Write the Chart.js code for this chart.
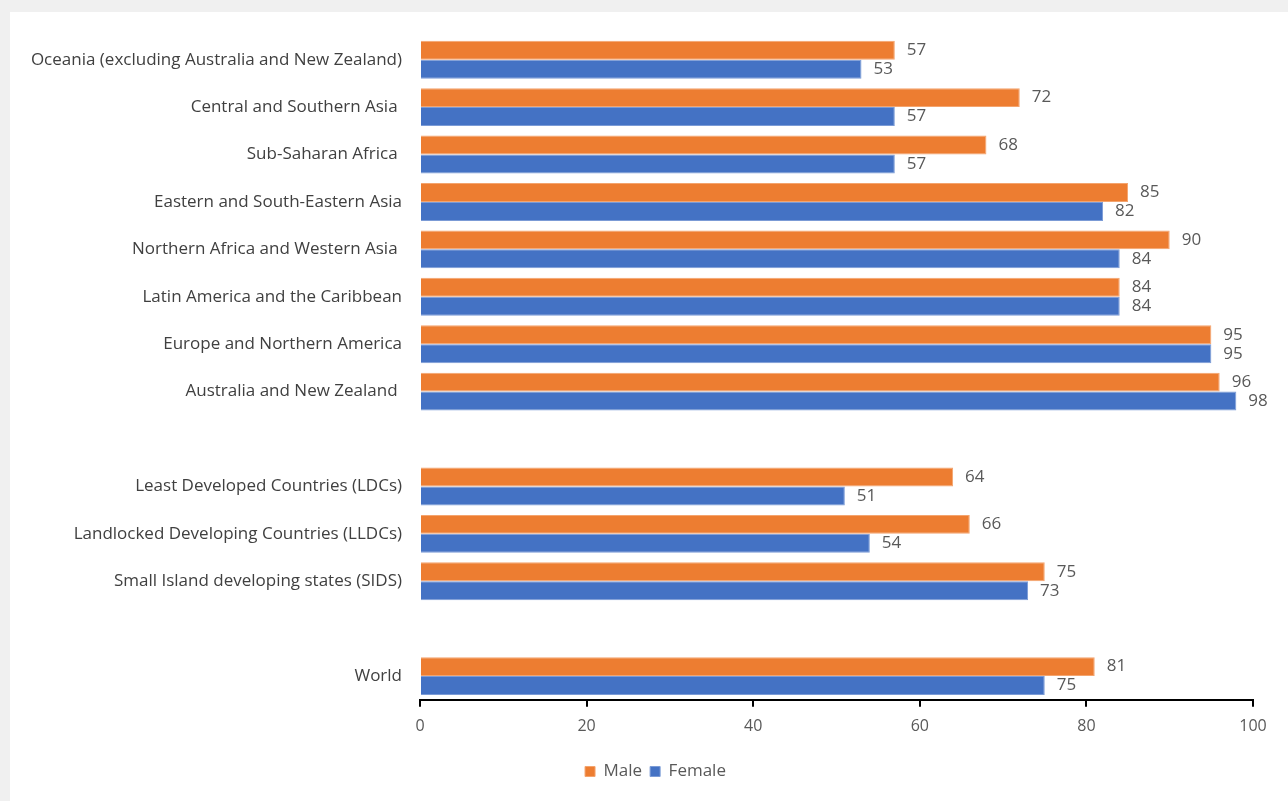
<!DOCTYPE html>
<html>
<head>
<meta charset="utf-8">
<script src="https://cdn.jsdelivr.net/npm/chart.js@4/dist/chart.umd.min.js"></script>
<style>
  html, body { margin: 0; padding: 0; background: #f0f0f0; }
  #panel {
    position: absolute; left: 10px; top: 12px;
    width: 1278px; height: 789px; background: #ffffff;
  }
</style>
</head>
<body>
<div id="panel"><canvas id="chart"></canvas></div>
<script>
// --- Data ---
const regions = [
    'Oceania (excluding Australia and New Zealand)',
    'Central and Southern Asia ',
    'Sub-Saharan Africa ',
    'Eastern and South-Eastern Asia',
    'Northern Africa and Western Asia ',
    'Latin America and the Caribbean',
    'Europe and Northern America',
    'Australia and New Zealand ',
    '',
    'Least Developed Countries (LDCs)',
    'Landlocked Developing Countries (LLDCs)',
    'Small Island developing states (SIDS)',
    '',
    'World'
];
const maleValues   = [57, 72, 68, 85, 90, 84, 95, 96, null, 64, 66, 75, null, 81];
const femaleValues = [53, 57, 57, 82, 84, 84, 95, 98, null, 51, 54, 73, null, 75];
const xTicks = [0, 20, 40, 60, 80, 100];

const FONT = '"Open Sans", "Noto Sans", sans-serif';

// value labels at the end of each bar
const barLabels = {
    id: 'barLabels',
    afterDatasetsDraw(chart) {
        const c = chart.ctx;
        c.save();
        c.font = '17px ' + FONT;
        c.fillStyle = '#595959';
        c.textAlign = 'left';
        c.textBaseline = 'middle';
        chart.data.datasets.forEach((ds, i) => {
            chart.getDatasetMeta(i).data.forEach((bar, j) => {
                const v = ds.data[j];
                if (v === null || v === undefined) return;
                c.fillText(String(v), bar.x + 12, bar.y);
            });
        });
        c.restore();
    }
};

// nudge the legend a bit to the right, like the original
const legendShift = {
    id: 'legendShift',
    afterLayout(chart) {
        if (!chart.legend) return;
        chart.legend.left += 24;
        chart.legend.right += 24;
    }
};

const ctx = document.getElementById('chart').getContext('2d');
const chart = new Chart(ctx, {
    type: 'bar',
    data: {
        labels: regions,
        datasets: [
            {
                label: 'Male',
                data: maleValues,
                backgroundColor: '#ed7d31',
                borderColor: '#f4a46e',
                borderWidth: 1,
                barPercentage: 1.0,
                categoryPercentage: 0.8
            },
            {
                label: 'Female',
                data: femaleValues,
                backgroundColor: '#4472c4',
                borderColor: '#7b9bd6',
                borderWidth: 1,
                barPercentage: 1.0,
                categoryPercentage: 0.8
            }
        ]
    },
    options: {
        indexAxis: 'y',
        responsive: true,
        maintainAspectRatio: false,
        animation: false,
        layout: { padding: { top: 24, right: 35, bottom: 11, left: 0 } },
        plugins: {
            legend: {
                position: 'bottom',
                labels: {
                    boxWidth: 10,
                    boxHeight: 10,
                    padding: 8,
                    color: '#595959',
                    font: { size: 17, family: FONT }
                }
            },
            tooltip: { enabled: false }
        },
        scales: {
            x: {
                min: 0,
                max: 100,
                afterBuildTicks: (scale) => {
                    scale.ticks = xTicks.map(v => ({ value: v }));
                },
                afterFit: (scale) => { scale.height += 9; },
                border: { display: true, color: '#000000', width: 2 },
                grid: {
                    drawOnChartArea: false,
                    drawTicks: true,
                    tickLength: 7,
                    color: '#000000',
                    lineWidth: 2
                },
                ticks: {
                    color: '#595959',
                    padding: 10,
                    font: { size: 16, family: FONT }
                }
            },
            y: {
                afterFit: (scale) => { scale.width = 410; },
                border: { display: false },
                grid: { display: false },
                ticks: {
                    color: '#404040',
                    padding: 10,
                    autoSkip: false,
                    font: { size: 17, family: FONT }
                }
            }
        }
    },
    plugins: [barLabels, legendShift]
});
</script>
</body>
</html>
